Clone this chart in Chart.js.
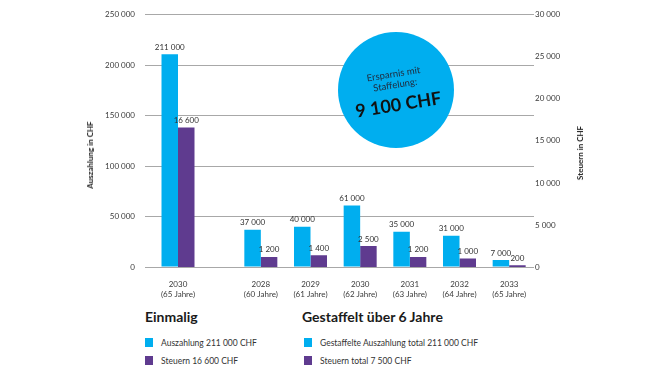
<!DOCTYPE html>
<html>
<head>
<meta charset="utf-8">
<script src="https://cdn.jsdelivr.net/npm/chart.js@4/dist/chart.umd.min.js"></script>
<style>
    body { margin: 0; background: #fff; font-family: Lato, sans-serif; color: #222; }
    #wrap { position: relative; width: 670px; height: 377px; overflow: hidden; }
    #chart { position: absolute; left: 0; top: 0; }
    .axis-title { position: absolute; font-size: 8px; font-weight: 700; white-space: nowrap;
        transform: translate(-50%, -50%) rotate(-90deg); color: #222; }
    #bubble { position: absolute; left: 338px; top: 32px; width: 116px; height: 116px;
        border-radius: 50%; background: #00aeef; }
    #bubble .inner { position: absolute; left: 0; top: 0; width: 116px; height: 116px;
        transform: rotate(-9deg); text-align: center; }
    #bubble .small { position: absolute; left: 0; width: 100%; font-size: 9.5px; color: #1f2a3c; line-height: 11px; }
    #bubble .big { position: absolute; left: 0; width: 100%; font-size: 18px; font-weight: 700; color: #111; }
    .legend-title { position: absolute; top: 308px; font-size: 14px; font-weight: 700; color: #1a1a1a; }
    .legend-item { position: absolute; font-size: 8.5px; color: #333; white-space: nowrap; line-height: 10px; }
    .legend-item span { position: absolute; left: -16px; top: 0; width: 8px; height: 9px; }
</style>
</head>
<body>
<div id="wrap">
    <canvas id="chart" width="670" height="300"></canvas>
    <div class="axis-title" style="left: 90px; top: 155px;">Auszahlung in CHF</div>
    <div class="axis-title" style="left: 580px; top: 153px;">Steuern in CHF</div>
    <div id="bubble">
        <div class="inner">
            <div class="small" style="top: 36px;">Ersparnis mit</div>
            <div class="small" style="top: 47px;">Staffelung:</div>
            <div class="big" style="top: 61px;">9 100 CHF</div>
        </div>
    </div>
    <div class="legend-title" style="left: 145px;">Einmalig</div>
    <div class="legend-title" style="left: 302px;">Gestaffelt über 6 Jahre</div>
    <div class="legend-item" style="left: 161px; top: 338px;"><span style="background:#00aeef"></span>Auszahlung 211 000 CHF</div>
    <div class="legend-item" style="left: 161px; top: 356px;"><span style="background:#5f3b8f"></span>Steuern 16 600 CHF</div>
    <div class="legend-item" style="left: 320px; top: 338px;"><span style="background:#00aeef"></span>Gestaffelte Auszahlung total 211 000 CHF</div>
    <div class="legend-item" style="left: 320px; top: 356px;"><span style="background:#5f3b8f"></span>Steuern total 7 500 CHF</div>
</div>
<script>
// Einmalige Auszahlung
const einmaligYears = ['2030'];
const einmaligAges = ['(65 Jahre)'];
const einmaligAuszahlung = [211000];
const einmaligSteuern = [16600];

// Gestaffelte Auszahlung
const gestaffeltYears = ['2028', '2029', '2030', '2031', '2032', '2033'];
const gestaffeltAges = ['(60 Jahre)', '(61 Jahre)', '(62 Jahre)', '(63 Jahre)', '(64 Jahre)', '(65 Jahre)'];
const gestaffeltAuszahlung = [37000, 40000, 61000, 35000, 31000, 7000];
const gestaffeltSteuern = [1200, 1400, 2500, 1200, 1000, 200];

const BLUE = '#00aeef';
const PURPLE = '#5f3b8f';
const TEXT = '#3a3a3a';

const fmt = (n) => String(n).replace(/\B(?=(\d{3})+(?!\d))/g, ' ');

const einmaligLabels = einmaligYears.map((y, i) => [y, einmaligAges[i]]);
const gestaffeltLabels = gestaffeltYears.map((y, i) => [y, gestaffeltAges[i]]);

// draws the value above each bar
const valueLabels = {
    id: 'valueLabels',
    afterDatasetsDraw(chart) {
        const ctx = chart.ctx;
        ctx.save();
        ctx.font = '8px Lato';
        ctx.fillStyle = '#333';
        ctx.textAlign = 'center';
        ctx.textBaseline = 'bottom';
        chart.data.datasets.forEach((ds, i) => {
            chart.getDatasetMeta(i).data.forEach((bar, j) => {
                ctx.fillText(fmt(ds.data[j]), bar.x, bar.y - 3);
            });
        });
        ctx.restore();
    },
};

const tickFont = { family: 'Lato', size: 8 };
const xTicks = { color: TEXT, font: tickFont, padding: 5, maxRotation: 0, minRotation: 0, autoSkip: false };
const hidden = (weight, labels, stack) => ({
    type: 'category', position: 'bottom', stack, stackWeight: weight, labels, display: false,
});

// Two rows of x axes: 'labels' shows the category texts, 'bars' (hidden) places the bars.
// Chart.js 4.5 shifts grouped bars by the index of their x axis, so the bar row is offset to compensate.
const ctx = document.getElementById('chart').getContext('2d');
new Chart(ctx, {
    type: 'bar',
    data: {
        datasets: [
            {
                label: 'Auszahlung',
                data: einmaligAuszahlung,
                backgroundColor: BLUE,
                xAxisID: 'x1',
                yAxisID: 'y',
                categoryPercentage: 0.795,
                barPercentage: 1,
            },
            {
                label: 'Steuern',
                data: einmaligSteuern,
                backgroundColor: PURPLE,
                xAxisID: 'x1',
                yAxisID: 'y2',
                categoryPercentage: 0.795,
                barPercentage: 1,
            },
            {
                label: 'Gestaffelte Auszahlung',
                data: gestaffeltAuszahlung,
                backgroundColor: BLUE,
                xAxisID: 'x2',
                yAxisID: 'y',
                categoryPercentage: 1.329,
                barPercentage: 1,
            },
            {
                label: 'Steuern gestaffelt',
                data: gestaffeltSteuern,
                backgroundColor: PURPLE,
                xAxisID: 'x2',
                yAxisID: 'y2',
                categoryPercentage: 1.329,
                barPercentage: 1,
            },
        ],
    },
    options: {
        responsive: false,
        animation: false,
        layout: { padding: { top: 14, left: 0, right: 0, bottom: 0 } },
        plugins: {
            legend: { display: false },
            tooltip: { enabled: false },
        },
        scales: {
            xLabel1: {
                type: 'category',
                position: 'bottom',
                stack: 'labels',
                stackWeight: 66,
                labels: einmaligLabels,
                grid: { display: false },
                border: { display: false },
                ticks: xTicks,
                afterFit: (s) => { s.height = 33; },
            },
            xLabelGap: hidden(25, [''], 'labels'),
            xLabel2: {
                type: 'category',
                position: 'bottom',
                stack: 'labels',
                stackWeight: 298,
                labels: gestaffeltLabels,
                grid: { display: false },
                border: { display: false },
                ticks: xTicks,
                afterFit: (s) => { s.height = 33; },
            },
            xPad: hidden(8, [''], 'bars'),
            x1: hidden(83, einmaligLabels, 'bars'),
            x2: hidden(298, gestaffeltLabels, 'bars'),
            y: {
                position: 'left',
                stacked: false,
                min: 0,
                max: 250000,
                ticks: { stepSize: 50000, color: TEXT, font: tickFont, padding: 10, callback: (v) => fmt(v) },
                grid: { color: '#a8a8a8', lineWidth: 1, drawTicks: false },
                border: { display: false },
                afterFit: (s) => { s.width = 145; },
            },
            y2: {
                position: 'right',
                stacked: false,
                min: 0,
                max: 30000,
                ticks: { stepSize: 5000, color: TEXT, font: tickFont, padding: 1, callback: (v) => fmt(v) },
                grid: { display: false, drawTicks: false },
                border: { display: false },
                afterFit: (s) => { s.width = 136; },
            },
        },
    },
    plugins: [valueLabels],
});
</script>
</body>
</html>
